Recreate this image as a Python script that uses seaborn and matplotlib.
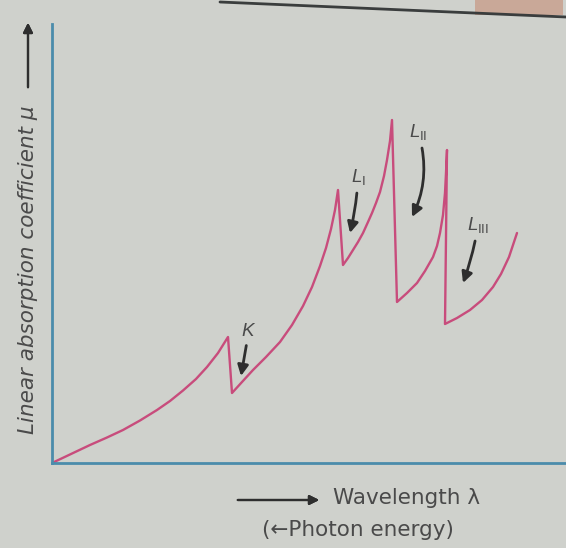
import numpy as np
import pandas as pd
import seaborn as sns
import matplotlib.pyplot as plt
from matplotlib.lines import Line2D
from matplotlib.patches import Rectangle

# Datos (unidades arbitrarias)
# ==============================================================================
wavelength = [0, 19, 38, 55, 71, 88, 105, 118, 131, 144, 155, 166, 176,
              180, 190, 201, 214, 228, 240, 251, 260, 268, 274, 279, 283, 286,
              291, 296, 301, 306, 311, 316, 320, 324, 328, 332, 335, 338, 340,
              345, 355, 365, 373, 381, 385, 388, 391, 393, 394, 395,
              393, 405, 418, 430, 441, 449, 457, 465]
mu = [0, 9, 18, 25.5, 33, 42.5, 53, 62, 72.5, 84, 96, 110, 126,
      70, 81, 93, 106, 121, 138, 157, 176, 197, 215, 234, 253, 273,
      198, 205, 213, 221, 230, 241, 250, 260, 271, 287, 303, 322, 343,
      161, 170, 180, 192, 206, 217, 230, 248, 270, 290, 313,
      139, 145, 153, 163, 176, 189, 206, 230]

edge_labels = ["$K$", "$L_{\\mathrm{I}}$", "$L_{\\mathrm{II}}$", "$L_{\\mathrm{III}}$"]
edge_text = [(197, 133), (306, 286), (366, 331), (426, 238)]
edge_tip = [(189, 87), (298, 230), (360, 246), (411, 180)]
edge_rad = [0.0, -0.05, -0.2, -0.05]

df = pd.DataFrame({"wavelength": wavelength, "mu": mu})

# Estilo
# ==============================================================================
sns.set_theme(style="white")
plt.rcParams["font.family"] = ["DejaVu Sans"]
plt.rcParams["mathtext.fontset"] = "custom"
plt.rcParams["mathtext.it"] = "Liberation Sans:italic"
plt.rcParams["mathtext.rm"] = "Liberation Sans"

bg = "#cfd1cc"
axis_col = "#4b8cab"
curve_col = "#c84c7c"
txt_col = "#4a4a4a"
arrow_col = "#2e2e2e"

fig = plt.figure(figsize=(5.66, 5.48), dpi=100, facecolor=bg)
ax = fig.add_axes([52 / 566, 85 / 548, 514 / 566, 439 / 548])
ax.set_facecolor(bg)

sns.lineplot(data=df, x="wavelength", y="mu", sort=False, estimator=None,
             color=curve_col, linewidth=1.7, ax=ax)

ax.set_xlim(0, 514)
ax.set_ylim(0, 439)
ax.set_xticks([])
ax.set_yticks([])
ax.set_xlabel("")
ax.set_ylabel("")
for s in ["top", "right"]:
    ax.spines[s].set_visible(False)
for s in ["left", "bottom"]:
    ax.spines[s].set_color(axis_col)
    ax.spines[s].set_linewidth(2)

# Etiquetas de los bordes de absorcion
for lab, pt, tip, rad in zip(edge_labels, edge_text, edge_tip, edge_rad):
    ax.annotate(lab, xy=tip, xytext=pt, fontsize=13.5, color=txt_col,
                ha="center", va="center",
                arrowprops=dict(arrowstyle="-|>", color=arrow_col, lw=2,
                                mutation_scale=16, shrinkA=2, shrinkB=0,
                                connectionstyle=f"arc3,rad={rad}"))

# Titulos de los ejes
fig.text(28 / 566, 1 - 270 / 548, "Linear absorption coefficient μ",
         rotation=90, fontsize=15.5, fontstyle="italic", color=txt_col,
         ha="center", va="center")
fig.add_artist(plt.annotate("", xy=(28 / 566, 1 - 20 / 548),
                            xytext=(28 / 566, 1 - 90 / 548),
                            xycoords="figure fraction",
                            arrowprops=dict(arrowstyle="-|>", color=arrow_col,
                                            lw=1.6, mutation_scale=14)))
fig.text(333 / 566, 1 - 498 / 548, "Wavelength λ", fontsize=15.5,
         color=txt_col, ha="left", va="center")
fig.text(358 / 566, 1 - 530 / 548, "(←Photon energy)", fontsize=15.5,
         color=txt_col, ha="center", va="center")
fig.add_artist(plt.annotate("", xy=(322 / 566, 1 - 500 / 548),
                            xytext=(235 / 566, 1 - 500 / 548),
                            xycoords="figure fraction",
                            arrowprops=dict(arrowstyle="-|>", color=arrow_col,
                                            lw=1.6, mutation_scale=14)))

# Borde de la pagina fotografiada
fig.add_artist(Rectangle((475 / 566, 1 - 15 / 548), 88 / 566, 15 / 548,
                         transform=fig.transFigure, color="#c9a898", lw=0))
fig.add_artist(Line2D([220 / 566, 1], [1 - 2 / 548, 1 - 17 / 548],
                      transform=fig.transFigure, color="#3a3d3d", lw=2))

fig.savefig("out.png", dpi=100, facecolor=bg)
